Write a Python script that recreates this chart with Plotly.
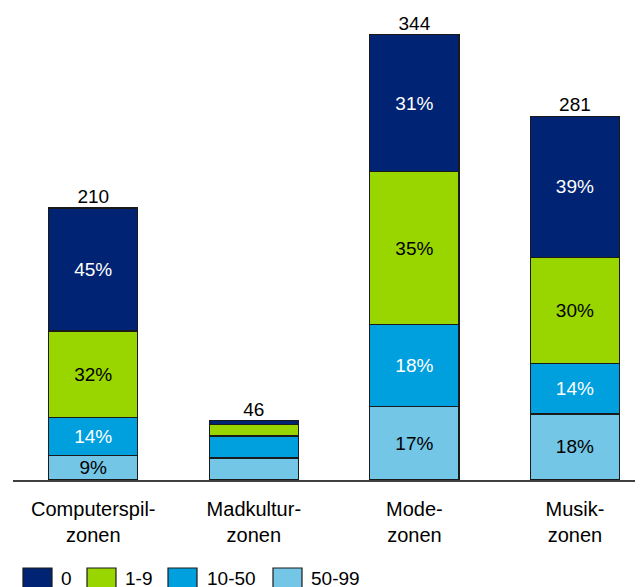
import plotly.graph_objects as go

categories = ["Computerspil-<br>zonen", "Madkultur-<br>zonen", "Mode-<br>zonen", "Musik-<br>zonen"]
totals = [210, 46, 344, 281]
counts_50_99 = [19, 17, 57, 51]
counts_10_50 = [29, 17, 63, 39]
counts_1_9 = [67, 9, 118, 82]
counts_0 = [95, 3, 106, 109]
labels_50_99 = ["9%", "", "17%", "18%"]
labels_10_50 = ["14%", "", "18%", "14%"]
labels_1_9 = ["32%", "", "35%", "30%"]
labels_0 = ["45%", "", "31%", "39%"]
legend_items = ["0", "1-9", "10-50", "50-99"]

colors = {"0": "#002373", "1-9": "#99D600", "10-50": "#00A0DE", "50-99": "#73C6E6"}
text_colors = {"0": "white", "1-9": "black", "10-50": "white", "50-99": "black"}
FONT = "Liberation Sans, Arial, sans-serif"
FS = 19

# page body has an 8px default margin; layout offsets compensate for it
OFF = 8
PLOT_L, PLOT_W = 13, 630          # in screen pixels
PLOT_BASE = 480                   # screen y of the baseline
PLOT_H = PLOT_BASE - OFF          # plot area height (top at screen y = 8)

x = list(range(len(categories)))
fig = go.Figure()
for name, vals, labs in [("50-99", counts_50_99, labels_50_99),
                         ("10-50", counts_10_50, labels_10_50),
                         ("1-9", counts_1_9, labels_1_9),
                         ("0", counts_0, labels_0)]:
    fig.add_trace(go.Bar(
        x=x, y=vals, name=name, text=labs,
        marker=dict(color=colors[name], line=dict(color="#1a1a1a", width=1.2)),
        textposition="inside", insidetextanchor="middle", textangle=0,
        constraintext="none",
        textfont=dict(family=FONT, size=FS, color=text_colors[name]),
        width=0.555, showlegend=False,
    ))

fig.add_trace(go.Scatter(
    x=x, y=totals, mode="text", text=[str(t) for t in totals],
    textposition="top center",
    textfont=dict(family=FONT, size=FS, color="black"),
    showlegend=False, cliponaxis=False,
))

fig.update_layout(
    barmode="stack", width=643, height=587,
    margin=dict(l=PLOT_L - OFF, r=643 - (PLOT_L - OFF) - PLOT_W, t=0,
                b=587 - PLOT_H, autoexpand=False),
    plot_bgcolor="white", paper_bgcolor="white",
    font=dict(family=FONT, size=FS, color="black"),
    xaxis=dict(range=[-0.5, 3.424], tickvals=x, ticktext=categories, showline=True,
               linecolor="#404040", linewidth=2, ticks="", showgrid=False, zeroline=False,
               automargin=False, ticklabelstandoff=10,
               tickfont=dict(family=FONT, size=20)),
    yaxis=dict(range=[0, PLOT_H / 1.295], visible=False, showgrid=False, automargin=False),
)

# custom legend (screen pixel positions converted to paper coords)
legend_box_x = [23, 87, 168, 273]
legend_text_x = [59, 123, 205, 309]
for name, bx, tx in zip(legend_items, legend_box_x, legend_text_x):
    fig.add_shape(type="rect", xref="paper", yref="paper",
                  x0=(bx - PLOT_L) / PLOT_W, x1=(bx + 29 - PLOT_L) / PLOT_W,
                  y0=(PLOT_BASE - 568) / PLOT_H, y1=(PLOT_BASE - 592) / PLOT_H,
                  fillcolor=colors[name], line=dict(color="#1a1a1a", width=1.2))
    fig.add_annotation(xref="paper", yref="paper", x=(tx - PLOT_L) / PLOT_W,
                       y=(PLOT_BASE - 578) / PLOT_H, text=name, showarrow=False,
                       xanchor="left", yanchor="middle",
                       font=dict(family=FONT, size=FS, color="black"))

fig.write_html("out.html")
